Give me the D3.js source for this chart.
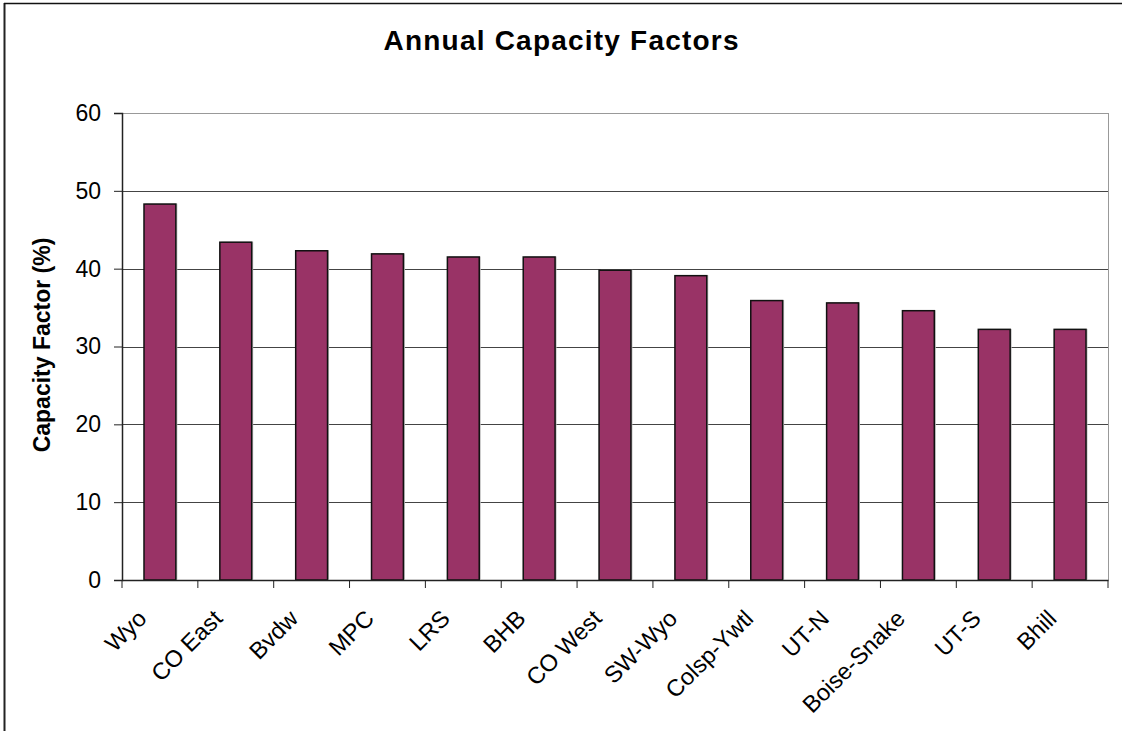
<!DOCTYPE html>
<html><head><meta charset="utf-8">
<script src="https://cdn.jsdelivr.net/npm/d3@7"></script>
<style>body{margin:0;background:#fff}svg{display:block}text{font-family:"Liberation Sans",Arial,sans-serif}</style>
</head><body>
<svg id="c" width="1122" height="731"></svg>
<script>
const categories = ["Wyo","CO East","Bvdw","MPC","LRS","BHB","CO West","SW-Wyo","Colsp-Ywtl","UT-N","Boise-Snake","UT-S","Bhill"];
const values = [48.3,43.4,42.3,41.9,41.5,41.5,39.8,39.1,35.9,35.6,34.6,32.2,32.2];
const yTicks = [0,10,20,30,40,50,60];
const title = "Annual Capacity Factors";
const yTitle = "Capacity Factor (%)";

const svg = d3.select("#c");
const L=122,R=1108,T=113,B=580;
const x = d3.scaleBand().domain(categories).range([L,R]).paddingInner(0.58).paddingOuter(0.29);
const xb = d3.scaleBand().domain(categories).range([L,R]);
const y = d3.scaleLinear().domain([0,60]).range([B,T]);

// outer frame lines
svg.append("line").attr("x1",4.5).attr("x2",4.5).attr("y1",3).attr("y2",731).attr("stroke","#222").attr("stroke-width",2);
svg.append("line").attr("x1",4).attr("x2",1122).attr("y1",3.5).attr("y2",3.5).attr("stroke","#111").attr("stroke-width",1.5);

// plot border top/right
svg.append("line").attr("x1",L).attr("x2",R).attr("y1",T+0.5).attr("y2",T+0.5).attr("stroke","#999");
svg.append("line").attr("x1",R+0.5).attr("x2",R+0.5).attr("y1",T).attr("y2",B).attr("stroke","#999");

// gridlines
svg.append("g").selectAll("line").data(yTicks.filter(d=>d>0&&d<60)).join("line")
  .attr("x1",L).attr("x2",R).attr("y1",d=>Math.round(y(d))+0.5).attr("y2",d=>Math.round(y(d))+0.5)
  .attr("stroke","#444").attr("stroke-width",1);

// bars with shadow
svg.append("g").selectAll("rect").data(values).join("rect")
  .attr("x",(d,i)=>x(categories[i])+1.5).attr("y",d=>y(d)-0.5).attr("width",x.bandwidth()).attr("height",d=>B-y(d))
  .attr("fill","#bbb");
svg.append("g").selectAll("rect").data(values).join("rect")
  .attr("x",(d,i)=>x(categories[i])).attr("y",d=>y(d)).attr("width",x.bandwidth()).attr("height",d=>B-y(d))
  .attr("fill","#993366").attr("stroke","#111").attr("stroke-width",1.5);

// y axis
const ya = svg.append("g").attr("transform",`translate(${L},0)`).call(d3.axisLeft(y).tickValues(yTicks).tickSize(8).tickPadding(13));
ya.select(".domain").attr("stroke","#222").attr("stroke-width",1.5);
ya.selectAll(".tick line").attr("stroke","#222");
ya.selectAll("text").attr("font-size",23).attr("fill","#000").attr("font-family","Liberation Sans, Arial, sans-serif");

// x axis
const xa = svg.append("g").attr("transform",`translate(0,${B})`).call(d3.axisBottom(xb).tickSize(0).tickFormat(""));
xa.select(".domain").attr("stroke","#222").attr("stroke-width",1.5);
svg.append("g").selectAll("line").data(d3.range(categories.length+1)).join("line")
  .attr("x1",i=>L+i*xb.step()).attr("x2",i=>L+i*xb.step()).attr("y1",B).attr("y2",B+8).attr("stroke","#222");
svg.append("g").selectAll("text").data(categories).join("text")
  .attr("transform",d=>`translate(${xb(d)+xb.bandwidth()/2-12},${B+40}) rotate(-45)`)
  .attr("text-anchor","end").attr("font-size",23.5).text(d=>d);

// titles
svg.append("text").attr("x",561).attr("y",50).attr("text-anchor","middle").attr("font-size",28).attr("font-weight","bold")
  .attr("textLength",355).attr("lengthAdjust","spacing").text(title);
svg.append("text").attr("transform","translate(50,345) rotate(-90)").attr("text-anchor","middle").attr("font-size",23).attr("font-weight","bold").text(yTitle);
</script>
</body></html>
